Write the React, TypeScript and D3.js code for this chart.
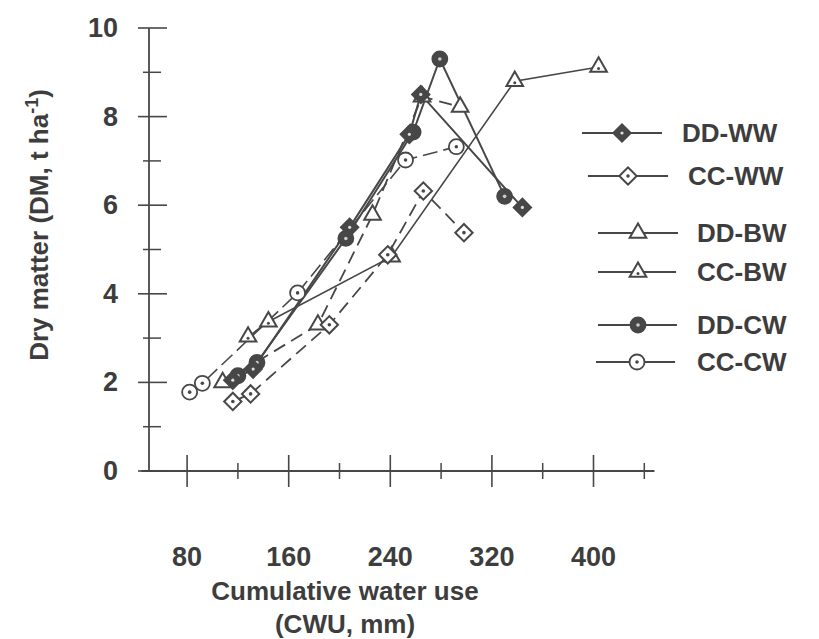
import React from "react";
import * as d3 from "d3";

const seriesNames = ["DD-WW", "CC-WW", "DD-BW", "CC-BW", "DD-CW", "CC-CW"];

const ddwwX = [116, 132, 208, 255, 264, 344];
const ddwwY = [2.05, 2.3, 5.5, 7.6, 8.5, 5.95];
const ccwwX = [116, 130, 192, 238, 266, 298];
const ccwwY = [1.57, 1.74, 3.3, 4.88, 6.32, 5.38];
const ddbwX = [108, 183, 226, 265, 295];
const ddbwY = [2.0, 3.3, 5.78, 8.45, 8.22];
const ccbwX = [128, 144, 241, 338, 404];
const ccbwY = [3.03, 3.37, 4.84, 8.8, 9.12];
const ddcwX = [120, 135, 205, 258, 279, 330];
const ddcwY = [2.15, 2.45, 5.25, 7.65, 9.3, 6.2];
const cccwX = [82, 92, 167, 252, 292];
const cccwY = [1.78, 1.98, 4.02, 7.02, 7.32];

const xMajorTicks = [80, 160, 240, 320, 400];
const xMinorTicks = [120, 200, 280, 360, 440];
const yMajorTicks = [0, 2, 4, 6, 8, 10];
const yMinorTicks = [1, 3, 5, 7, 9];

const INK = "#474747";
const TEXT = "#3d3d3d";
const FONT = "'Liberation Sans', Arial, sans-serif";

type Marker = "fdiamond" | "odiamond" | "otri" | "otridot" | "fcircle" | "ocircle";

const seriesDefs: { name: string; xs: number[]; ys: number[]; marker: Marker; dash: string | null; width: number }[] = [
  { name: seriesNames[0], xs: ddwwX, ys: ddwwY, marker: "fdiamond", dash: null, width: 2 },
  { name: seriesNames[1], xs: ccwwX, ys: ccwwY, marker: "odiamond", dash: "13,7", width: 1.8 },
  { name: seriesNames[2], xs: ddbwX, ys: ddbwY, marker: "otri", dash: "13,7", width: 1.8 },
  { name: seriesNames[3], xs: ccbwX, ys: ccbwY, marker: "otridot", dash: null, width: 1.6 },
  { name: seriesNames[4], xs: ddcwX, ys: ddcwY, marker: "fcircle", dash: null, width: 2 },
  { name: seriesNames[5], xs: cccwX, ys: cccwY, marker: "ocircle", dash: "15,6", width: 1.6 },
];

// drawing order of markers (filled DD-WW on top)
const markerOrder = [3, 2, 1, 5, 4, 0];

const diamondPath = d3.symbol().type(d3.symbolSquare).size(150)()!;
const trianglePath = d3.symbol().type(d3.symbolTriangle).size(120)()!;

function MarkerShape({ kind, cx, cy }: { kind: Marker; cx: number; cy: number }) {
  const t = `translate(${cx},${cy})`;
  if (kind === "fdiamond" || kind === "odiamond") {
    return (
      <g transform={t}>
        <path d={diamondPath} transform="rotate(45)" fill={kind === "fdiamond" ? INK : "#fff"} stroke={INK} strokeWidth={2} />
        <circle r={kind === "fdiamond" ? 1.6 : 1.8} fill={kind === "fdiamond" ? "#ddd" : INK} />
      </g>
    );
  }
  if (kind === "otri" || kind === "otridot") {
    return (
      <g transform={t}>
        <path d={trianglePath} fill="#fff" stroke={INK} strokeWidth={2} />
        {kind === "otridot" && <circle r={1.5} cy={1.5} fill={INK} />}
      </g>
    );
  }
  return (
    <g transform={t}>
      <circle r={7.5} fill={kind === "fcircle" ? INK : "#fff"} stroke={INK} strokeWidth={1.8} />
      <circle r={1.8} fill={kind === "fcircle" ? "#ccc" : INK} />
    </g>
  );
}

export default function App() {
  const W = 819;
  const H = 639;
  const x = d3.scaleLinear().domain([50, 450]).range([149, 657]);
  const y = d3.scaleLinear().domain([0, 10]).range([471, 28]);
  const line = d3
    .line<[number, number]>()
    .x((d) => x(d[0]))
    .y((d) => y(d[1]));

  const axisX = x(50);
  const axisY = y(0);

  const legendRows = [133, 176, 233, 272, 325, 362];
  const legendLineX = [
    [582, 662, 622, 682],
    [588, 668, 628, 688],
    [598, 678, 638, 697],
    [598, 676, 638, 697],
    [598, 677, 638, 697],
    [596, 675, 637, 697],
  ];

  return (
    <svg width={W} height={H} style={{ display: "block", position: "absolute", left: 0, top: 0, background: "#fff" }}>
      <rect width={W} height={H} fill="#fff" />
      {/* axes */}
      <line x1={axisX} x2={axisX} y1={y(0)} y2={y(10)} stroke={INK} strokeWidth={1.8} />
      <line x1={x(44)} x2={x(448)} y1={axisY} y2={axisY} stroke={INK} strokeWidth={1.8} />
      {yMajorTicks.map((v) => (
        <g key={"ym" + v}>
          <line x1={axisX - 11} x2={axisX + 18} y1={y(v)} y2={y(v)} stroke={INK} strokeWidth={1.6} />
          <text x={118} y={y(v) + 9} textAnchor="end" fontFamily={FONT} fontWeight="bold" fontSize={27} fill={TEXT}>
            {v}
          </text>
        </g>
      ))}
      {yMinorTicks.map((v) => (
        <line key={"yn" + v} x1={axisX - 6} x2={axisX + 12} y1={y(v)} y2={y(v)} stroke={INK} strokeWidth={1.5} />
      ))}
      {xMajorTicks.map((v) => (
        <g key={"xm" + v}>
          <line x1={x(v)} x2={x(v)} y1={axisY - 16} y2={axisY + 16} stroke={INK} strokeWidth={1.6} />
          <text x={x(v)} y={566} textAnchor="middle" fontFamily={FONT} fontWeight="bold" fontSize={27} fill={TEXT}>
            {v}
          </text>
        </g>
      ))}
      {xMinorTicks.map((v) => (
        <line key={"xn" + v} x1={x(v)} x2={x(v)} y1={axisY - 8} y2={axisY + 8} stroke={INK} strokeWidth={1.5} />
      ))}
      {/* axis titles */}
      <text x={345} y={600} textAnchor="middle" fontFamily={FONT} fontWeight="bold" fontSize={26} fill={TEXT}>
        Cumulative water use
      </text>
      <text x={345} y={633} textAnchor="middle" fontFamily={FONT} fontWeight="bold" fontSize={26} fill={TEXT}>
        (CWU, mm)
      </text>
      <text
        transform="translate(48,225) rotate(-90)"
        textAnchor="middle"
        fontFamily={FONT}
        fontWeight="bold"
        fontSize={26}
        fill={TEXT}
      >
        Dry matter (DM, t ha
        <tspan dy={-10} fontSize={18}>-1</tspan>
        <tspan dy={10}>)</tspan>
      </text>
      {/* lines */}
      {seriesDefs.map((s) => (
        <path
          key={"l" + s.name}
          d={line(s.xs.map((v, i) => [v, s.ys[i]] as [number, number]))!}
          fill="none"
          stroke={INK}
          strokeWidth={s.width}
          strokeDasharray={s.dash ?? undefined}
        />
      ))}
      {/* markers */}
      {markerOrder.map((k) => {
        const s = seriesDefs[k];
        return s.xs.map((v, i) => <MarkerShape key={s.name + i} kind={s.marker} cx={x(v)} cy={y(s.ys[i])} />);
      })}
      {/* legend */}
      {seriesDefs.map((s, i) => {
        const [l1, l2, mx, tx] = legendLineX[i];
        const ry = legendRows[i];
        return (
          <g key={"lg" + s.name}>
            <line x1={l1} x2={l2} y1={ry} y2={ry} stroke={INK} strokeWidth={1.8} />
            <MarkerShape kind={s.marker} cx={mx} cy={ry} />
            <text x={tx} y={ry + 9} fontFamily={FONT} fontWeight="bold" fontSize={26} fill={TEXT}>
              {s.name}
            </text>
          </g>
        );
      })}
    </svg>
  );
}
